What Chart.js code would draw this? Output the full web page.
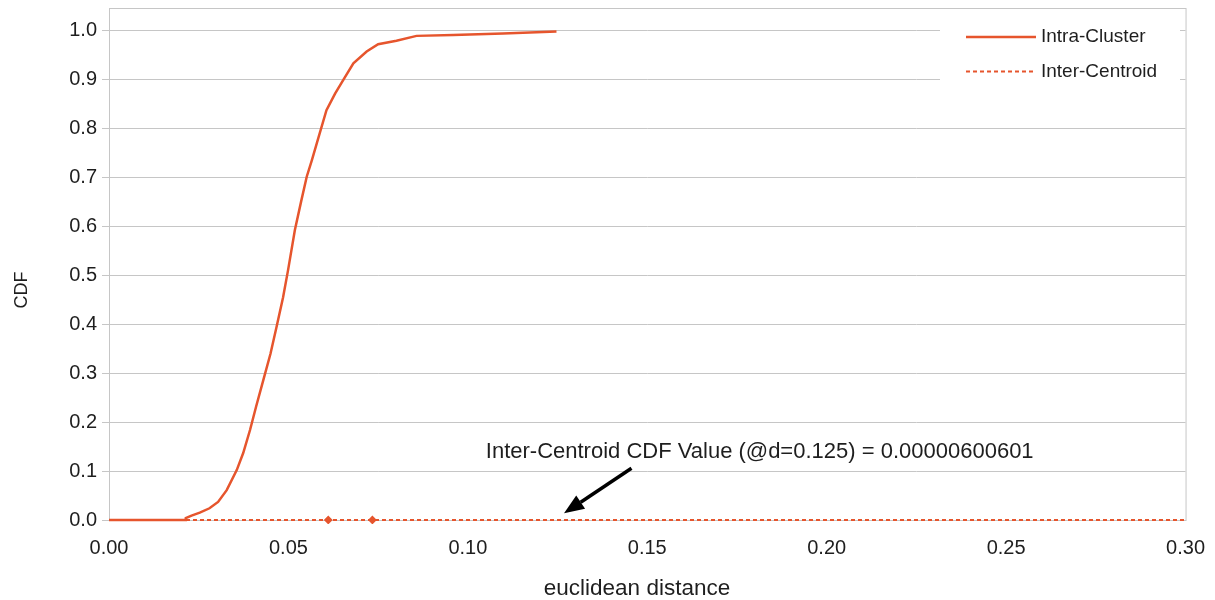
<!DOCTYPE html>
<html>
<head>
<meta charset="utf-8">
<script src="https://cdn.jsdelivr.net/npm/chart.js@4.4.1/dist/chart.umd.min.js"></script>
<style>
  html, body { margin: 0; padding: 0; background: #fff; }
  #wrap { width: 1215px; height: 600px; }
</style>
</head>
<body>
<div id="wrap"><canvas id="cdfChart" width="1215" height="600"></canvas></div>
<script>
// values
const intraX = [0, 0.0212, 0.0214, 0.0230, 0.0253, 0.0280, 0.0304, 0.0328, 0.0356, 0.0374, 0.0393, 0.0410, 0.0430, 0.0450, 0.0467, 0.0485, 0.0499, 0.0518, 0.0535, 0.0551, 0.0565, 0.0579, 0.0606, 0.0630, 0.0653, 0.0681, 0.0718, 0.0750, 0.0801, 0.0857, 0.0959, 0.1098, 0.1247];
const intraY = [0, 0, 0.004, 0.009, 0.015, 0.024, 0.037, 0.061, 0.102, 0.137, 0.184, 0.232, 0.286, 0.340, 0.395, 0.455, 0.511, 0.593, 0.650, 0.702, 0.735, 0.770, 0.838, 0.872, 0.900, 0.934, 0.958, 0.973, 0.980, 0.990, 0.992, 0.995, 0.9987];
const interX = [0, 0.0611, 0.0734, 0.125, 0.30];
const interY = [0, 0, 0, 0.00000600601, 0];
const xTicks = [0, 0.05, 0.10, 0.15, 0.20, 0.25, 0.30];
const yTicks = [0, 0.1, 0.2, 0.3, 0.4, 0.5, 0.6, 0.7, 0.8, 0.9, 1.0];
const seriesNames = ["Intra-Cluster", "Inter-Centroid"];
const xTitle = "euclidean distance";
const yTitle = "CDF";
const noteText = "Inter-Centroid CDF Value (@d=0.125) = 0.00000600601";

const lineColor = "#e6552d";
const gridColor = "#c6c6c6";
const textColor = "#1e1e1e";
const font = "'Liberation Sans', Arial, sans-serif";

const toPoints = (xs, ys) => xs.map((x, i) => ({ x: x, y: ys[i] }));

// box round plot area, axis titles, legend box and arrow note
const extras = {
  id: "extras",
  beforeDatasetsDraw(chart) {
    const { ctx, chartArea: a } = chart;
    ctx.save();
    ctx.strokeStyle = gridColor;
    ctx.lineWidth = 1;
    ctx.strokeRect(a.left + 0.5, a.top + 0.5, a.right - a.left, a.bottom - a.top);
    ctx.restore();
  },
  afterDraw(chart) {
    const { ctx, scales } = chart;
    ctx.save();

    // axis titles
    ctx.fillStyle = textColor;
    ctx.textAlign = "center";
    ctx.textBaseline = "middle";
    ctx.font = "22.5px " + font;
    ctx.fillText(xTitle, 637, 589);
    ctx.save();
    ctx.translate(22, 290);
    ctx.rotate(-Math.PI / 2);
    ctx.font = "18px " + font;
    ctx.fillText(yTitle, 0, 0);
    ctx.restore();
    ctx.textAlign = "left";

    // legend
    ctx.fillStyle = "#fff";
    ctx.fillRect(940, 13, 240, 78);
    chart.data.datasets.forEach((ds, i) => {
      const y = 37 + i * 34.5;
      ctx.strokeStyle = ds.borderColor;
      ctx.lineWidth = ds.borderWidth;
      ctx.setLineDash(ds.borderDash || []);
      ctx.beginPath();
      ctx.moveTo(966, y);
      ctx.lineTo(1036, y);
      ctx.stroke();
      ctx.setLineDash([]);
      ctx.fillStyle = textColor;
      ctx.font = "19px " + font;
      ctx.fillText(ds.label, 1041, y);
    });

    // note with arrow
    const x = scales.x, yS = scales.y;
    ctx.fillStyle = textColor;
    ctx.font = "22px " + font;
    ctx.fillText(noteText, x.getPixelForValue(0.105), yS.getPixelForValue(0.139));
    const tx = x.getPixelForValue(0.1268), ty = yS.getPixelForValue(0.0137);
    const sx = x.getPixelForValue(0.1456), sy = yS.getPixelForValue(0.1057);
    const ang = Math.atan2(ty - sy, tx - sx);
    const head = 20;
    const bx = tx - head * Math.cos(ang), by = ty - head * Math.sin(ang);
    ctx.strokeStyle = "#000";
    ctx.lineWidth = 3.5;
    ctx.beginPath();
    ctx.moveTo(sx, sy);
    ctx.lineTo(bx, by);
    ctx.stroke();
    ctx.fillStyle = "#000";
    ctx.beginPath();
    ctx.moveTo(tx, ty);
    ctx.lineTo(bx + 8 * Math.sin(ang), by - 8 * Math.cos(ang));
    ctx.lineTo(bx - 8 * Math.sin(ang), by + 8 * Math.cos(ang));
    ctx.closePath();
    ctx.fill();
    ctx.restore();
  },
};

new Chart(document.getElementById("cdfChart").getContext("2d"), {
  type: "scatter",
  data: {
    datasets: [
      {
        label: seriesNames[0],
        data: toPoints(intraX, intraY),
        showLine: true,
        borderColor: lineColor,
        backgroundColor: lineColor,
        borderWidth: 2.5,
        pointRadius: 0,
        tension: 0,
        clip: 4,
      },
      {
        label: seriesNames[1],
        data: toPoints(interX, interY),
        showLine: true,
        borderColor: lineColor,
        backgroundColor: lineColor,
        borderWidth: 2,
        borderDash: [4, 3],
        pointRadius: [0, 3, 3, 0, 0],
        pointStyle: "rectRot",
        tension: 0,
        clip: 4,
      },
    ],
  },
  options: {
    responsive: false,
    animation: false,
    layout: { padding: { left: 0, top: 8, right: 29, bottom: 0 } },
    plugins: {
      legend: { display: false },
      tooltip: { enabled: false },
    },
    scales: {
      x: {
        type: "linear",
        min: 0,
        max: 0.30,
        afterBuildTicks: (s) => { s.ticks = xTicks.map((v) => ({ value: v })); },
        afterFit: (s) => { s.height = 80; },
        grid: { display: false, drawTicks: true, tickLength: 6, tickColor: gridColor },
        border: { display: false },
        ticks: {
          color: textColor,
          font: { family: font, size: 20 },
          padding: 10,
          maxRotation: 0,
          callback: (v) => v.toFixed(2),
        },
      },
      y: {
        type: "linear",
        min: 0,
        max: 1.047,
        afterBuildTicks: (s) => { s.ticks = yTicks.map((v) => ({ value: v })); },
        afterFit: (s) => { s.width = 109; s.paddingTop = 0; s.paddingBottom = 0; },
        grid: { color: gridColor, lineWidth: 1, tickLength: 7, tickColor: gridColor },
        border: { display: false },
        ticks: {
          color: textColor,
          font: { family: font, size: 20 },
          padding: 5,
          callback: (v) => v.toFixed(1),
        },
      },
    },
  },
  plugins: [extras],
});
</script>
</body>
</html>
